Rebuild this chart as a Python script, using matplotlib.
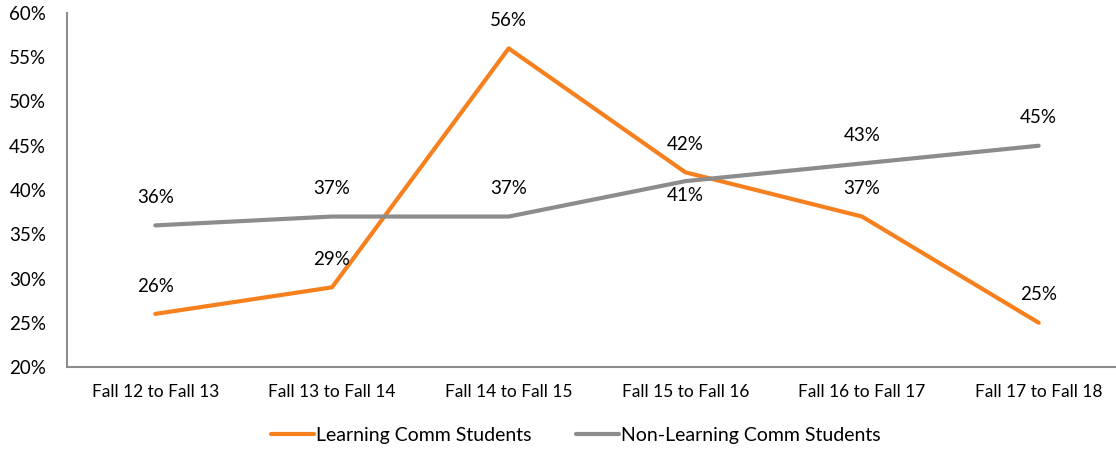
import matplotlib.pyplot as plt
from matplotlib.ticker import FuncFormatter

plt.rcParams['font.family'] = ['Lato', 'DejaVu Sans']

periods = ['Fall 12 to Fall 13', 'Fall 13 to Fall 14', 'Fall 14 to Fall 15',
           'Fall 15 to Fall 16', 'Fall 16 to Fall 17', 'Fall 17 to Fall 18']
learning = [26, 29, 56, 42, 37, 25]
non_learning = [36, 37, 37, 41, 43, 45]
# label placement: above, except the gray 41% which sits below
non_below = [False, False, False, True, False, False]

orange = '#F7801E'
gray = '#8C8C8C'

fig = plt.figure(figsize=(11.16, 4.49), dpi=100)
ax = fig.add_axes([67/1116, 1-367/449, 1060/1116, 354/449])

x = range(len(periods))
ax.plot(x, learning, color=orange, lw=3, label='Learning Comm Students', solid_capstyle='round')
ax.plot(x, non_learning, color=gray, lw=3, label='Non-Learning Comm Students', solid_capstyle='round')

for i, v in enumerate(learning):
    ax.annotate(f'{v}%', (i, v), xytext=(0, 20), textcoords='offset points',
                ha='center', va='center', fontsize=13.5)
for i, v in enumerate(non_learning):
    off = -10 if non_below[i] else 20
    ax.annotate(f'{v}%', (i, v), xytext=(0, off), textcoords='offset points',
                ha='center', va='center', fontsize=13.5)

ax.set_xlim(-0.5, 5.5)
ax.set_ylim(20, 60)
ax.set_yticks(range(20, 61, 5))
ax.yaxis.set_major_formatter(FuncFormatter(lambda v, p: f'{v:.0f}%'))
ax.set_xticks(list(x))
ax.set_xticklabels(periods)
ax.tick_params(axis='y', length=0, labelsize=13.5, pad=15)
ax.tick_params(axis='x', length=0, labelsize=12.5, pad=12)

for s in ['top', 'right']:
    ax.spines[s].set_visible(False)
for s in ['left', 'bottom']:
    ax.spines[s].set_color('#8C8C8C')
    ax.spines[s].set_linewidth(1.5)

fig.legend(loc='center', bbox_to_anchor=(576/1116, 1-435/449), ncol=2, frameon=False,
           fontsize=14, handlelength=2.2, handletextpad=0.1, columnspacing=2.3)

fig.savefig('out.png', dpi=100)
